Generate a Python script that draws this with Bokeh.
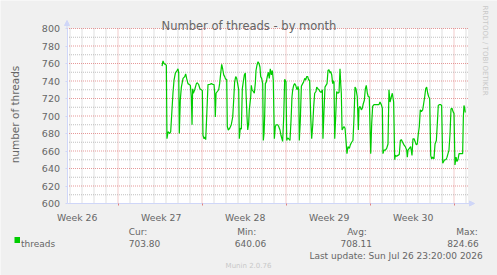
from bokeh.plotting import figure
from bokeh.models import Range1d, FixedTicker, Label, Arrow, NormalHead, BoxAnnotation
from bokeh.embed import file_html
from bokeh.resources import INLINE
import math

# ---------------- data (days since window start, thread count) ----------------
t_days = [
    7.92, 8.00, 8.08, 8.19, 8.28, 8.33, 8.42, 8.56, 8.64, 8.83, 8.92, 9.03, 9.17, 9.25, 9.31, 9.36,
    9.44, 9.53, 9.67, 9.81, 9.89, 9.97, 10.08, 10.19, 10.28, 10.36, 10.42, 10.47, 10.53, 10.64, 10.78,
    10.86, 10.97, 11.08, 11.19, 11.28, 11.33, 11.42, 11.50, 11.56, 11.64, 11.75, 11.89, 12.03, 12.17,
    12.25, 12.31, 12.36, 12.42, 12.53, 12.64, 12.72, 12.81, 12.89, 12.97, 13.06, 13.14, 13.22, 13.31,
    13.36, 13.44, 13.56, 13.69, 13.81, 13.89, 13.97, 14.06, 14.14,
    14.22, 14.31, 14.36, 14.44, 14.53, 14.61, 14.69, 14.78, 14.86, 14.92, 15.00, 15.06, 15.14, 15.19,
    15.31, 15.36, 15.42, 15.53, 15.61, 15.69, 15.75, 15.83, 15.92, 16.00, 16.08, 16.14, 16.22, 16.31,
    16.36, 16.42, 16.47, 16.53, 16.61, 16.69, 16.78, 16.86, 16.94, 17.03, 17.11, 17.19, 17.28, 17.36,
    17.44, 17.56, 17.64, 17.75, 17.83, 17.97, 18.06, 18.14, 18.25, 18.31, 18.39, 18.47, 18.58, 18.67,
    18.75, 18.81, 18.89, 18.97, 19.06, 19.14, 19.19, 19.25, 19.31, 19.36, 19.44, 19.53, 19.64, 19.72,
    19.81, 19.89, 19.97, 20.06, 20.14, 20.22, 20.31, 20.39, 20.47, 20.56, 20.64, 20.75,
    20.81, 20.92, 21.00, 21.08, 21.19, 21.28, 21.33, 21.42, 21.50, 21.58, 21.67, 21.75, 21.83, 21.92,
    21.97, 22.06, 22.14, 22.19, 22.25, 22.31, 22.39, 22.47, 22.56, 22.67, 22.75, 22.81, 22.86, 22.92,
    23.00, 23.08, 23.17, 23.25, 23.33, 23.42, 23.53, 23.61, 23.72, 23.83, 23.92, 24.00, 24.08, 24.19,
    24.28, 24.33, 24.42, 24.53, 24.61, 24.69, 24.78, 24.86, 24.94, 25.03, 25.11, 25.19, 25.31, 25.39,
    25.47, 25.58, 25.72, 25.86, 26.00, 26.08, 26.19, 26.28, 26.33, 26.42, 26.53, 26.64, 26.75, 26.83,
    26.92, 27.03, 27.11,
    27.22, 27.31, 27.36, 27.47, 27.58, 27.69, 27.78, 27.86, 27.97, 28.08, 28.19, 28.31, 28.36, 28.42,
    28.53, 28.64, 28.75, 28.83, 28.92, 29.03, 29.11, 29.19, 29.28, 29.36, 29.44, 29.53, 29.64, 29.72,
    29.81, 29.89, 29.97, 30.06, 30.14, 30.22, 30.31, 30.39, 30.47, 30.58, 30.67, 30.78, 30.86, 30.94,
    31.03, 31.14, 31.22, 31.31, 31.39, 31.47, 31.58, 31.67, 31.75, 31.83, 31.92, 32.00, 32.08, 32.17,
    32.25, 32.33, 32.42, 32.50, 32.58, 32.67, 32.78, 32.89, 32.97, 33.03, 33.08, 33.14, 33.19,
]
threads = [
    757, 763, 760, 759, 758, 674, 682, 680, 682, 726, 741, 749, 752, 754, 749, 680,
    718, 733, 743, 745, 748, 743, 737, 736, 735, 722, 690, 731, 726, 730, 737,
    738, 736, 731, 730, 729, 678, 674, 676, 673, 699, 736, 736, 737, 736,
    736, 726, 699, 726, 728, 730, 737, 749, 759, 754, 747, 745, 742, 742,
    688, 684, 686, 690, 699, 718, 739, 745, 743,
    737, 730, 674, 686, 685, 731, 739, 747, 749, 726, 699, 684, 692, 707,
    722, 735, 730, 728, 726, 737, 752, 758, 762, 760, 756, 745, 743, 737,
    672, 680, 699, 737, 739, 745, 750, 743, 754, 747, 752, 741, 674, 688,
    690, 690, 688, 684, 678, 671, 699, 742, 739, 672, 675, 674, 672, 695,
    722, 730, 735, 737, 735, 731, 730, 734, 730, 672, 694, 734, 737, 739,
    743, 741, 745, 745, 741, 741, 699, 674, 688, 711, 726, 728,
    733, 731, 730, 728, 727, 730, 674, 707, 733, 735, 737, 752, 753, 749,
    751, 747, 737, 740, 739, 674, 699, 728, 726, 727, 754, 737, 726, 684,
    686, 688, 686, 672, 657, 665, 663, 667, 670, 672, 699, 733, 731, 722,
    684, 709, 711, 707, 709, 714, 718, 731, 735, 726, 722, 722, 657, 691,
    711, 713, 713, 713, 713, 716, 713, 709, 657, 661, 661, 663, 668, 730,
    716, 722, 726,
    716, 650, 655, 654, 655, 656, 672, 673, 670, 667, 665, 661, 653, 661,
    663, 665, 655, 674, 674, 670, 667, 668, 680, 688, 707, 705, 707, 714,
    722, 731, 733, 726, 722, 720, 655, 651, 653, 651, 668, 672, 691, 712,
    713, 713, 712, 646, 648, 650, 650, 653, 657, 661, 680, 708, 709, 705,
    703, 644, 653, 648, 650, 657, 657, 657, 657, 699, 712, 709, 704,
]

week_ticks = [0.85, 7.85, 14.85, 21.85, 28.85]
week_labels = ["Week 26", "Week 27", "Week 28", "Week 29", "Week 30"]
sundays = [4.25, 11.25, 18.25, 25.25, 32.25]
y_ticks = [600, 620, 640, 660, 680, 700, 720, 740, 760, 780, 800]
y_minor = [610, 630, 650, 670, 690, 710, 730, 750, 770, 790]

title_text = "Number of threads - by month"
y_label = "number of threads"
series_name = "threads"
stat_names = ["Cur:", "Min:", "Avg:", "Max:"]
stat_values = ["703.80", "640.06", "708.11", "824.66"]
last_update = "Last update: Sun Jul 26 23:20:00 2026"
footer = "Munin 2.0.76"
watermark = "RRDTOOL / TOBI OETIKER"

# ---------------- layout (the frame covers the whole canvas) ----------------
W, H = 497, 275
FL, FR, FT, FB = 66.5, 467.5, 28, 203      # plot area in pixels
X_SPAN = (FR - FL) / 12.0
Y0, Y1 = 600, 800


def sx(px):
    return (px - FL) / (FR - FL) * X_SPAN


def sy(py):
    return Y1 - (py - FT) / (FB - FT) * (Y1 - Y0)


FONT = "DejaVu Sans"
TXT = "#666666"
AX = "#CFD6F8"
GRID = "#B0B0B0"
MGRID = "#E08080"
GREEN = "#00CC00"

p = figure(width=W, height=H, output_backend="svg", toolbar_location=None,
           x_range=Range1d(sx(0), sx(W)), y_range=Range1d(sy(H), sy(0)),
           min_border=0, min_border_left=0, min_border_right=0, min_border_top=0,
           min_border_bottom=0)
p.background_fill_color = "#F0F0F0"
p.border_fill_color = "#F0F0F0"
p.outline_line_color = None
p.grid.visible = False

# white canvas behind the grid
p.quad(left=[0], right=[X_SPAN], bottom=[Y0], top=[Y1], fill_color="#FFFFFF",
       line_color=None, level="image")

# dotted grid, limited to the plot area
days = [0.25 + k for k in range(34) if (0.25 + k) not in sundays]
for ticks, col in [(days, GRID), (sundays, MGRID)]:
    n = len(ticks)
    p.segment(x0=ticks, x1=ticks, y0=[Y0] * n, y1=[Y1] * n, line_color=col,
              line_dash="1 1", line_width=1, line_alpha=0.8, level="underlay")
for ticks, col in [(y_minor, GRID), (y_ticks[1:], MGRID)]:
    n = len(ticks)
    p.segment(x0=[0] * n, x1=[X_SPAN] * n, y0=ticks, y1=ticks, line_color=col,
              line_dash="1 1", line_width=1, line_alpha=0.8, level="underlay")

p.line(t_days, threads, line_color=GREEN, line_width=1.2)

# axes, drawn at the plot-area edges
xa = p.xaxis[0]
xa.fixed_location = Y0
xa.bounds = (0, X_SPAN)
xa.ticker = FixedTicker(ticks=week_ticks, minor_ticks=sundays)
xa.major_label_overrides = {t: s for t, s in zip(week_ticks, week_labels)}
xa.major_tick_line_color = None
xa.minor_tick_line_color = MGRID
xa.minor_tick_in = 0
xa.minor_tick_out = 2
xa.axis_line_color = AX
xa.major_label_standoff = 2
xa.major_label_text_font = FONT
xa.major_label_text_font_size = "9.3px"
xa.major_label_text_color = TXT

ya = p.yaxis[0]
ya.fixed_location = 0
ya.bounds = (Y0, Y1)
ya.ticker = FixedTicker(ticks=y_ticks, minor_ticks=[])
ya.major_tick_line_color = AX
ya.major_tick_in = 0
ya.major_tick_out = 2
ya.axis_line_color = AX
ya.major_label_standoff = 5
ya.major_label_text_font = FONT
ya.major_label_text_font_size = "9.5px"
ya.major_label_text_color = TXT

# arrows at axis ends
p.add_layout(Arrow(end=NormalHead(size=5, fill_color=AX, line_color=AX),
                   x_start=0, y_start=Y1, x_end=0, y_end=sy(20), line_color=AX))
p.add_layout(Arrow(end=NormalHead(size=5, fill_color=AX, line_color=AX),
                   x_start=X_SPAN, y_start=Y0, x_end=sx(474), y_end=Y0, line_color=AX))


def lab(px, py, text, size="9px", align="left", color=TXT, angle=0.0, baseline="alphabetic"):
    p.add_layout(Label(x=sx(px), y=sy(py), text=text, text_font=FONT, text_font_size=size,
                       text_color=color, text_align=align, text_baseline=baseline, angle=angle))


lab(248.5, 25, title_text, size="11.5px", align="center")
lab(14.5, 114, y_label, size="10.5px", align="center", angle=math.pi / 2)
lab(484.5, 5, watermark, size="7px", align="left", color="#C8C8C8", angle=-math.pi / 2)

stat_x = [128.3, 236.7, 346.7, 455.7]
val_x = [128.3, 234.3, 340.0, 446.7]
for nx, vx, n, v in zip(stat_x, val_x, stat_names, stat_values):
    lab(nx, 231, n)
    lab(vx, 243, v)

p.add_layout(BoxAnnotation(left=sx(14), right=sx(19.5), top=sy(236.5), bottom=sy(242.5),
                           fill_color=GREEN, fill_alpha=1.0, line_color=None))
lab(20.5, 243, series_name)
lab(482.3, 255, last_update, align="right")
lab(248, 265.7, footer, size="7px", align="center", color="#C8C8C8")

open("out.html", "w").write(file_html(p, INLINE))
